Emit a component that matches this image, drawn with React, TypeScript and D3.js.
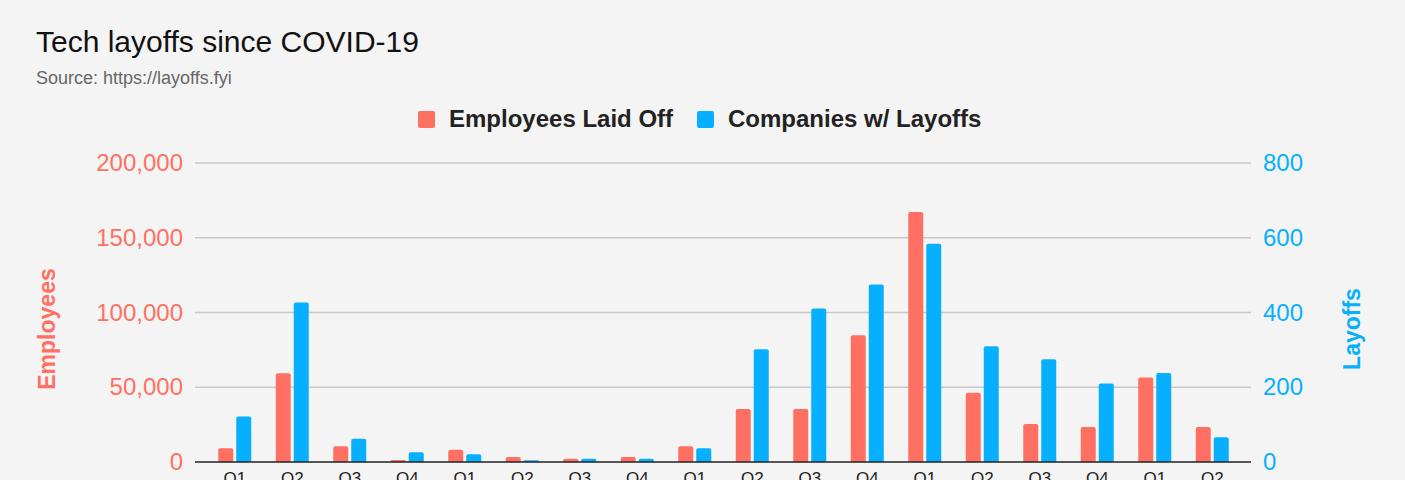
import { useMemo } from "react";
import { scaleBand, scaleLinear } from "d3";

const quarters = [
	"Q1", "Q2", "Q3", "Q4",
	"Q1", "Q2", "Q3", "Q4",
	"Q1", "Q2", "Q3", "Q4",
	"Q1", "Q2", "Q3", "Q4",
	"Q1", "Q2",
];
const employeesLaidOff = [
	9200, 59300, 10500, 1300, 8200, 3300, 2200, 3300, 10500, 35400, 35400,
	84700, 167200, 46400, 25400, 23400, 56600, 23400,
];
const companiesWithLayoffs = [
	122, 427, 62, 26, 21, 5, 9, 9, 37, 302, 411, 475, 584, 310, 275, 210, 238,
	66,
];
const employeeTicks = [0, 50000, 100000, 150000, 200000];
const layoffTicks = [0, 200, 400, 600, 800];

const RED = "#FF7062";
const BLUE = "#06B0FF";
const FONT = "'Liberation Sans', Arial, sans-serif";

function barPath(x: number, y: number, w: number, h: number) {
	const r = Math.min(2, h / 2, w / 2);
	if (h <= 0) return "";
	return `M${x},${y + h}V${y + r}Q${x},${y} ${x + r},${y}H${x + w - r}Q${x + w},${y} ${x + w},${y + r}V${y + h}Z`;
}

export default function App() {
	const width = 1405;
	const height = 480;
	const plotLeft = 195;
	const plotRight = 1251;
	const yTop = 163;
	const yBase = 462;
	const titleY = 329;

	const { xScale, subScale, yEmp, yLay } = useMemo(() => {
		const xScale = scaleBand<number>()
			.domain(quarters.map((_, i) => i))
			.range([206, 1241]);
		const subScale = scaleBand<string>()
			.domain(["emp", "lay"])
			.range([0, 33])
			.paddingInner(1 / 6);
		const yEmp = scaleLinear().domain([0, 200000]).range([yBase, yTop]);
		const yLay = scaleLinear().domain([0, 800]).range([yBase, yTop]);
		return { xScale, subScale, yEmp, yLay };
	}, []);

	const fmt = (v: number) => v.toLocaleString("en-US");

	return (
		<div
			style={{
				position: "fixed",
				inset: 0,
				background: "#f4f4f4",
			}}
		>
			<svg width={width} height={height} style={{ display: "block" }} fontFamily={FONT}>
				<rect width={width} height={height} fill="#f4f4f4" />
				<text x={36} y={52} fontSize={30} fill="#111">
					Tech layoffs since COVID-19
				</text>
				<text x={36} y={84} fontSize={18} fill="#666">
					Source: https://layoffs.fyi
				</text>

				{/* legend */}
				<g fontSize={24} fontWeight="bold" fill="#222">
					<rect x={418} y={111} width={17} height={17} rx={2} fill={RED} />
					<text x={449} y={127}>Employees Laid Off</text>
					<rect x={697} y={111} width={17} height={17} rx={2} fill={BLUE} />
					<text x={728} y={127}>Companies w/ Layoffs</text>
				</g>

				{/* gridlines */}
				{employeeTicks.slice(1).map((t) => (
					<line
						key={t}
						x1={plotLeft}
						x2={plotRight}
						y1={yEmp(t)}
						y2={yEmp(t)}
						stroke="#c8c8c8"
						strokeWidth={1.5}
					/>
				))}

				{/* left axis */}
				{employeeTicks.map((t) => (
					<text
						key={t}
						x={183}
						y={yEmp(t) + 8}
						textAnchor="end"
						fontSize={24}
						fill={RED}
					>
						{fmt(t)}
					</text>
				))}
				<text
					transform={`translate(55,${titleY}) rotate(-90)`}
					textAnchor="middle"
					fontSize={23}
					fontWeight="bold"
					fill={RED}
				>
					Employees
				</text>

				{/* right axis */}
				{layoffTicks.map((t) => (
					<text key={t} x={1263} y={yLay(t) + 8} fontSize={24} fill={BLUE}>
						{t}
					</text>
				))}
				<text
					transform={`translate(1360,${titleY}) rotate(-90)`}
					textAnchor="middle"
					fontSize={23}
					fontWeight="bold"
					fill={BLUE}
				>
					Layoffs
				</text>

				{/* bars */}
				{quarters.map((_, i) => {
					const x0 = xScale(i)! + xScale.bandwidth() / 2 - 16.5;
					const bw = subScale.bandwidth();
					const e = employeesLaidOff[i];
					const c = companiesWithLayoffs[i];
					return (
						<g key={i}>
							<path
								d={barPath(x0 + subScale("emp")!, yEmp(e), bw, yBase - yEmp(e))}
								fill={RED}
							/>
							<path
								d={barPath(x0 + subScale("lay")!, yLay(c), bw, yBase - yLay(c))}
								fill={BLUE}
							/>
						</g>
					);
				})}

				<line
					x1={plotLeft}
					x2={plotRight}
					y1={yBase}
					y2={yBase}
					stroke="#222"
					strokeWidth={1.5}
				/>

				{/* x labels (cut off by the bottom edge, as in the original) */}
				{quarters.map((q, i) => (
					<text
						key={i}
						x={xScale(i)! + xScale.bandwidth() / 2}
						y={484}
						textAnchor="middle"
						fontSize={17}
						fill="#222"
					>
						{q}
					</text>
				))}
			</svg>
		</div>
	);
}
